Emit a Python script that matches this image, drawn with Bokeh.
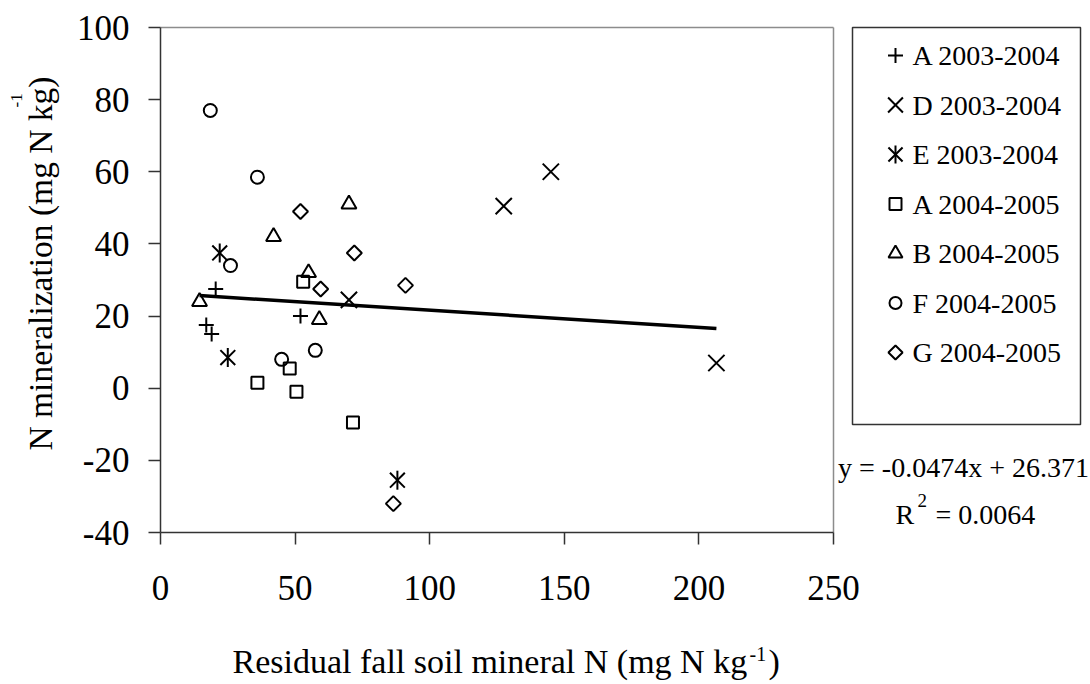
import numpy as np
from bokeh.plotting import figure
from bokeh.models import Range1d, FixedTicker, Label
from bokeh.core.properties import value
from bokeh.embed import file_html
from bokeh.resources import INLINE

# ---------------- data ----------------
a0304_x = [20.5, 52, 17, 19]
a0304_y = [27.5, 20, 17.5, 15]
d0304_x = [70, 127.5, 145, 206.5]
d0304_y = [24.5, 50.5, 60, 7]
e0304_x = [22, 25, 88]
e0304_y = [37.5, 8.5, -25.5]
a0405_x = [53, 48, 36, 50.5, 71.5]
a0405_y = [29.5, 5.5, 1.5, -1, -9.5]
b0405_x = [70, 42, 14.5, 55, 59]
b0405_y = [51, 42, 24, 32, 19]
f0405_x = [18.5, 36, 26, 45, 57.5]
f0405_y = [77, 58.5, 34, 8, 10.5]
g0405_x = [52, 72, 59.5, 91, 86.5]
g0405_y = [49, 37.5, 27.5, 28.5, -32]

series_labels = ["A 2003-2004", "D 2003-2004", "E 2003-2004", "A 2004-2005",
                 "B 2004-2005", "F 2004-2005", "G 2004-2005"]
x_ticks = [0, 50, 100, 150, 200, 250]
y_ticks = [-40, -20, 0, 20, 40, 60, 80, 100]
trend_slope = -0.0474
trend_intercept = 26.371
eq_text = "y = -0.0474x + 26.371"
r2_value = "= 0.0064"

# ---------------- layout (pixels) ----------------
W, H = 1090, 684
PX_L, PX_R, PX_T, PX_B = 160, 833, 27, 532
x0, x1 = x_ticks[0], x_ticks[-1]
y0, y1 = y_ticks[0], y_ticks[-1]
kx = (PX_R - PX_L) / (x1 - x0)
ky = (PX_B - PX_T) / (y1 - y0)


def px2x(px):
    return x0 + (px - PX_L) / kx


def py2y(py):
    return y0 + (PX_B - py) / ky


FONT = "Liberation Serif"
INK = "black"
AX = "#333333"
BASE_FIX = 0.38  # label baseline correction, in em

p = figure(width=W, height=H,
           x_range=Range1d(px2x(0), px2x(W)),
           y_range=Range1d(py2y(H), py2y(0)),
           output_backend="svg", toolbar_location=None, min_border=0)
p.grid.visible = False
p.background_fill_color = "white"
p.border_fill_color = "white"
p.outline_line_color = None

for ax in (p.xaxis[0], p.yaxis[0]):
    ax.axis_line_color = AX
    ax.axis_line_width = 1.5
    ax.major_tick_line_color = AX
    ax.major_tick_line_width = 1.5
    ax.major_tick_in = 0
    ax.major_tick_out = 12
    ax.minor_tick_line_color = None
    ax.major_label_text_font = FONT
    ax.major_label_text_font_size = "35px"
    ax.major_label_text_color = INK
p.xaxis.ticker = FixedTicker(ticks=x_ticks)
p.yaxis.ticker = FixedTicker(ticks=y_ticks)
p.xaxis.fixed_location = y0
p.yaxis.fixed_location = x0
p.xaxis.bounds = (x0, x1)
p.yaxis.bounds = (y0, y1)
p.yaxis.major_label_overrides = {t: str(t) for t in y_ticks}
p.xaxis.major_label_standoff = 31
p.yaxis.major_label_standoff = 19

# top and right edges of the plot area
p.segment(x0=[x0, x1], y0=[y1, y0], x1=[x1, x1], y1=[y1, y1],
          line_color="#8c8c8c", line_width=1.5)

common = dict(line_color=INK, line_width=2, fill_color=None)
p.scatter(a0304_x, a0304_y, marker="cross", size=15, **common)
p.scatter(d0304_x, d0304_y, marker="x", size=23, **common)
p.scatter(e0304_x, e0304_y, marker="x", size=21, **common)
p.scatter(e0304_x, e0304_y, marker="dash", size=19, angle=np.pi / 2, **common)
p.scatter(a0405_x, a0405_y, marker="square", size=12, **common)
p.scatter(b0405_x, b0405_y, marker="triangle", size=15, **common)
p.scatter(f0405_x, f0405_y, marker="circle", size=13, **common)
p.scatter(g0405_x, g0405_y, marker="square", size=10.6, angle=np.pi / 4, **common)

all_x = a0304_x + d0304_x + e0304_x + a0405_x + b0405_x + f0405_x + g0405_x
tx = [min(all_x), max(all_x)]
ty = [trend_slope * v + trend_intercept for v in tx]
p.line(tx, ty, line_color=INK, line_width=3.5)

# ---------------- legend box (outside the axes area) ----------------
LEG_L, LEG_R, LEG_T, LEG_B = 852, 1080, 27, 424
ROW0, ROW_STEP, SYM_X, TXT_X = 55, 49.5, 895, 912
p.quad(left=[px2x(LEG_L)], right=[px2x(LEG_R)], top=[py2y(LEG_T)], bottom=[py2y(LEG_B)],
       fill_color="white", line_color=AX, line_width=1.5)
row_y = [py2y(ROW0 + ROW_STEP * i) for i in range(len(series_labels))]
sym_x = px2x(SYM_X)
leg_markers = [("cross", 15, 0.0), ("x", 21, 0.0), ("x", 20, 0.0), ("square", 12, 0.0),
               ("triangle", 14, 0.0), ("circle", 12, 0.0), ("square", 10, np.pi / 4)]
for (mk, sz, ang), yy in zip(leg_markers, row_y):
    p.scatter([sym_x], [yy], marker=mk, size=sz, angle=ang, **common)
p.scatter([sym_x], [row_y[2]], marker="dash", size=18, angle=np.pi / 2, **common)
p.text(x=[px2x(TXT_X)] * len(series_labels), y=row_y, text=series_labels,
       text_font=value(FONT), text_font_size=value("28px"), text_color=INK,
       text_align="left", text_baseline="middle")


def lab(text, dx, dy, size, align="left", angle=0.0):
    fix = BASE_FIX * size
    if angle:
        dx -= fix
    else:
        dy += fix
    p.add_layout(Label(x=x0, y=y0, x_offset=dx, y_offset=dy, text=text, angle=angle,
                       text_font=FONT, text_font_size=f"{size}px", text_color=INK,
                       text_align=align, text_baseline="alphabetic"))


# x axis title with superscript (baseline at px 674)
lab("Residual fall soil mineral N (mg N kg", 72, PX_B - 674, 34)
lab("-1", 589, PX_B - 661, 20)
lab(")", 608, PX_B - 674, 34)
# y axis title with superscript
lab("N mineralization (mg N kg)", 53 - PX_L, PX_B - 450, 33.5, angle=np.pi / 2)
lab("-1", 22 - PX_L, PX_B - 107, 17, angle=np.pi / 2)
# trendline equation
lab(eq_text, 963 - PX_L, PX_B - 478, 28, align="center")
lab("R", 895 - PX_L, PX_B - 525, 28)
lab("2", 917 - PX_L, PX_B - 507, 19)
lab(r2_value, 935 - PX_L, PX_B - 525, 28)

open("out.html", "w").write(file_html(p, INLINE))
